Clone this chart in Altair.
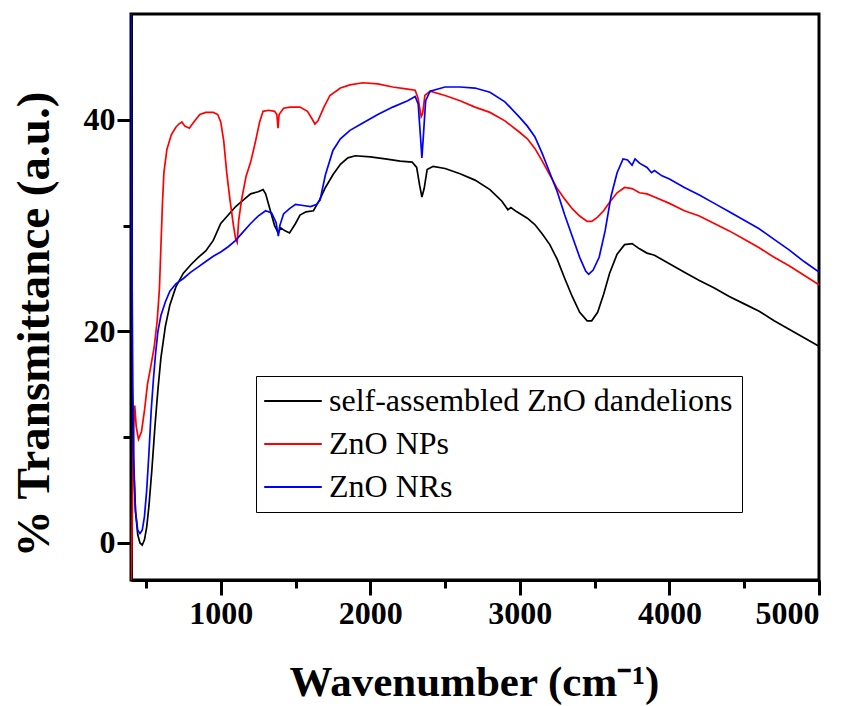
import altair as alt
import pandas as pd

series_names = ["self-assembled ZnO dandelions", "ZnO NPs", "ZnO NRs"]
series_colors = ["#000000", "#ff0000", "#0000ff"]

# self-assembled ZnO dandelions (black)
dand_wn = [400, 405, 415, 430, 445, 460, 475, 490, 505, 520, 540, 560, 580, 600, 630, 660,
           700, 750, 800, 850, 900, 950, 1000, 1050, 1100, 1150, 1200, 1250, 1283, 1300,
           1330, 1360, 1385, 1400, 1430, 1460, 1500, 1530, 1570, 1620, 1660, 1700, 1750,
           1800, 1850, 1900, 2000, 2100, 2200, 2280, 2310, 2330, 2345, 2360, 2380, 2420,
           2500, 2600, 2700, 2800, 2880, 2920, 2940, 2980, 3050, 3100, 3150, 3200, 3250,
           3300, 3350, 3400, 3450, 3480, 3520, 3560, 3600, 3650, 3700, 3750, 3800, 3850,
           3900, 4000, 4100, 4200, 4300, 4400, 4500, 4600, 4700, 4800, 4900, 5000]
dand_t = [18.5, 14.0, 8.0, 3.0, 0.8, 0.0, -0.2, 0.3, 1.5, 3.5, 7.0, 11.0, 14.5, 17.5, 20.5, 22.5,
          24.2, 25.5, 26.3, 27.0, 27.6, 28.6, 30.2, 31.0, 31.8, 32.4, 33.0, 33.2, 33.4, 33.0,
          31.5, 30.0, 29.3, 29.8, 29.5, 29.3, 30.2, 31.0, 31.3, 31.4, 32.4, 33.6, 34.8,
          35.8, 36.4, 36.6, 36.5, 36.3, 36.1, 36.0, 35.5, 33.8, 32.7, 33.5, 35.3, 35.6,
          35.4, 34.9, 34.3, 33.4, 32.3, 31.5, 31.7, 31.3, 30.7, 30.1, 29.2, 28.2, 26.8,
          25.0, 23.3, 21.8, 21.0, 21.0, 21.8, 23.5, 25.5, 27.3, 28.2, 28.3, 27.8, 27.4,
          27.2, 26.4, 25.6, 24.8, 24.1, 23.3, 22.6, 21.9, 21.0, 20.2, 19.4, 18.6]

# ZnO NPs (red)
nps_wn = [400, 410, 418, 425, 435, 450, 470, 490, 510, 530, 555, 575, 590, 600, 610, 620,
          640, 670, 700, 720, 740, 760, 790, 820, 860, 900, 950, 980, 1000, 1020, 1040,
          1062, 1085, 1100, 1110, 1120, 1140, 1170, 1200, 1230, 1260, 1283, 1320, 1360,
          1375, 1383, 1390, 1420, 1463, 1530, 1580, 1610, 1630, 1650, 1690, 1730, 1800,
          1864, 1950, 2050, 2150, 2250, 2300, 2320, 2340, 2350, 2365, 2400, 2500, 2600,
          2700, 2800, 2900, 3000, 3050, 3100, 3150, 3200, 3250, 3300, 3350, 3400, 3450,
          3480, 3520, 3560, 3600, 3650, 3700, 3750, 3800, 3850, 3900, 4000, 4100, 4200,
          4300, 4400, 4500, 4600, 4700, 4800, 4900, 5000]
nps_t = [-5.0, 4.0, 11.0, 13.0, 11.0, 9.8, 10.5, 12.5, 15.0, 16.5, 18.5, 21.0, 24.0, 28.0, 32.0, 35.0,
         37.2, 38.6, 39.3, 39.6, 39.8, 39.4, 39.2, 39.8, 40.5, 40.7, 40.7, 40.5, 39.8, 38.0, 35.0,
         32.4, 30.0, 28.7, 28.4, 30.5, 32.5, 34.7, 36.0, 37.8, 39.8, 40.8, 40.9, 40.8,
         40.5, 39.2, 40.5, 41.1, 41.2, 41.2, 40.8, 40.1, 39.6, 39.9, 41.2, 42.3, 43.0,
         43.3, 43.5, 43.4, 43.1, 42.9, 42.8, 42.0, 40.3, 40.6, 42.3, 42.7, 42.3, 41.8,
         41.2, 40.7, 39.9, 38.8, 38.2, 37.3, 36.1, 34.8, 33.5, 32.5, 31.6, 30.9, 30.4,
         30.4, 30.8, 31.4, 32.2, 33.1, 33.6, 33.5, 33.1, 33.0, 32.7, 32.1, 31.4, 30.9,
         30.2, 29.5, 28.7, 27.9, 27.0, 26.2, 25.3, 24.4]

# ZnO NRs (blue)
nrs_wn = [400, 405, 412, 420, 430, 445, 460, 475, 490, 505, 520, 535, 550, 565, 580, 600,
          630, 660, 700, 750, 800, 850, 900, 950, 1000, 1050, 1100, 1150, 1200, 1250, 1300,
          1340, 1370, 1385, 1395, 1420, 1460, 1500, 1550, 1600, 1640, 1664, 1700, 1750,
          1800, 1864, 1950, 2050, 2150, 2250, 2300, 2320, 2335, 2345, 2355, 2370, 2400,
          2500, 2600, 2700, 2800, 2900, 3000, 3050, 3100, 3150, 3200, 3250, 3300, 3350,
          3400, 3440, 3460, 3490, 3530, 3570, 3610, 3650, 3690, 3720, 3750, 3770, 3800,
          3850, 3880, 3900, 3950, 4000, 4100, 4200, 4300, 4400, 4500, 4600, 4700, 4800,
          4900, 5000]
nrs_t = [52.0, 30.0, 15.0, 7.0, 3.0, 1.2, 0.9, 1.2, 2.5, 5.0, 8.5, 12.5, 15.5, 18.0, 20.0, 21.5,
         22.8, 23.8, 24.5, 25.0, 25.6, 26.1, 26.6, 27.1, 27.5, 28.0, 28.6, 29.4, 30.2, 30.9, 31.4,
         31.2, 30.3, 29.0, 30.0, 31.1, 31.6, 32.0, 31.9, 31.8, 32.0, 32.4, 34.8, 37.1,
         38.2, 39.0, 39.7, 40.5, 41.2, 41.8, 42.2, 41.5, 38.5, 36.4, 38.5, 41.8, 42.7,
         43.1, 43.1, 43.0, 42.6, 41.7, 40.2, 39.4, 38.4, 36.8, 35.0, 33.2, 31.0, 29.0,
         27.0, 25.7, 25.4, 25.8, 27.0, 29.5, 32.8, 35.0, 36.3, 36.2, 35.7, 36.3, 35.9,
         35.5, 35.0, 35.2, 34.7, 34.4, 33.6, 32.9, 32.1, 31.3, 30.5, 29.7, 28.7, 27.7,
         26.6, 25.6]

x_tick_values = [500, 1000, 1500, 2000, 2500, 3000, 3500, 4000, 4500, 5000]
y_tick_values = [0, 10, 20, 30, 40]

rows = []
for name, wn, tv in [(series_names[0], dand_wn, dand_t),
                     (series_names[1], nps_wn, nps_t),
                     (series_names[2], nrs_wn, nrs_t)]:
    for w, t in zip(wn, tv):
        rows.append({"wn": w, "t": t, "series": name})
df = pd.DataFrame(rows)

FONT = "Liberation Serif"

chart = alt.Chart(df).mark_line(strokeWidth=1.7, clip=True).encode(
    x=alt.X(
        "wn:Q",
        scale=alt.Scale(domain=[400, 5000], nice=False, zero=False),
        axis=alt.Axis(
            values=x_tick_values,
            format="d",
            labelExpr="datum.value % 1000 === 0 ? datum.label : ''",
            title="Wavenumber (cm⁻¹)",
            grid=False,
            domainColor="black", domainWidth=3,
            tickColor="black", tickWidth=3,
            tickSize={"condition": {"test": "datum.value % 1000 === 0", "value": 15}, "value": 8},
            labelFont=FONT, labelFontWeight="bold", labelFontSize=32, labelColor="black",
            labelPadding=3,
            titleFont=FONT, titleFontWeight="bold", titleFontSize=43, titleColor="black",
            titleX=343, titleY=115, titleBaseline="alphabetic", titleAlign="center",
        ),
    ),
    y=alt.Y(
        "t:Q",
        scale=alt.Scale(domain=[-3.5, 50], nice=False, zero=False),
        axis=alt.Axis(
            values=y_tick_values,
            labelExpr="datum.value % 20 === 0 ? datum.label : ''",
            title="% Transmittance (a.u.)",
            grid=False,
            domainColor="black", domainWidth=3,
            tickColor="black", tickWidth=3,
            tickSize={"condition": {"test": "datum.value % 20 === 0", "value": 14}, "value": 8},
            labelFont=FONT, labelFontWeight="bold", labelFontSize=32, labelColor="black",
            labelPadding=2,
            titleFont=FONT, titleFontWeight="bold", titleFontSize=47, titleColor="black",
            titleAngle=-90, titleX=-97, titleY=310, titleBaseline="middle", titleAlign="center",
        ),
    ),
    color=alt.Color(
        "series:N",
        scale=alt.Scale(domain=series_names, range=series_colors),
        legend=alt.Legend(
            title=None,
            orient="none",
            legendX=125,
            legendY=362,
            strokeColor="black",
            fillColor="white",
            padding=9,
            symbolType="M-2.8,0H6.8",
            symbolSize=144,
            symbolStrokeWidth=2,
            labelOffset=32,
            labelFont=FONT,
            labelFontSize=32,
            labelColor="black",
            labelLimit=0,
            rowPadding=11,
        ),
    ),
).properties(
    width=688,
    height=566,
    autosize=alt.AutoSizeParams(type="none"),
    padding={"left": 131, "top": 14, "right": 40, "bottom": 126},
).configure(
    background="white",
    font=FONT,
).configure_view(
    stroke="black",
    strokeWidth=3,
)

chart.save("out.html", embed_options={"renderer": "svg", "actions": False})
